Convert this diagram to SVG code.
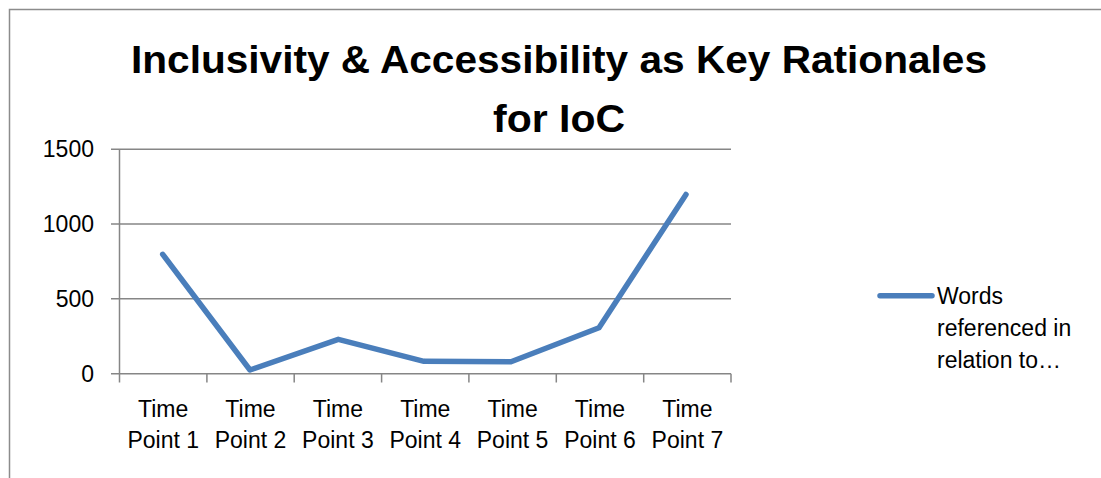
<svg xmlns="http://www.w3.org/2000/svg" width="1101" height="478" viewBox="0 0 1101 478">
  <style>
    .frame { fill: none; stroke: #8c8c8c; stroke-width: 1.5; }
    .grid { stroke: #868686; stroke-width: 1.5; fill: none; }
    .axis { stroke: #868686; stroke-width: 1.5; fill: none; }
    .title { font-family: "Liberation Sans", Arial, sans-serif; font-weight: bold; font-size: 39px; fill: #000; text-anchor: middle; }
    .tick { font-family: "Liberation Sans", Arial, sans-serif; font-size: 23px; fill: #000; }
    .ylab { text-anchor: end; }
    .xlab { text-anchor: middle; }
    .series { fill: none; stroke: #4a7ebb; stroke-width: 5.5; stroke-linecap: round; stroke-linejoin: round; }
  </style>
  <rect width="1101" height="478" fill="#ffffff"/>

  <!-- chart frame (runs off the right and bottom edges) -->
  <path class="frame" d="M9.5,480 V9.5 H1103"/>

  <!-- title -->
  <g id="title">
    <text class="title" x="559" y="73" textLength="856" lengthAdjust="spacingAndGlyphs">Inclusivity &amp; Accessibility as Key Rationales</text>
    <text class="title" x="559" y="132" textLength="132" lengthAdjust="spacingAndGlyphs">for IoC</text>
  </g>

  <!-- gridlines and axes -->
  <g id="axes">
    <line class="grid" x1="111" y1="149.3" x2="731" y2="149.3"/>
    <line class="grid" x1="111" y1="224" x2="731" y2="224"/>
    <line class="grid" x1="111" y1="298.7" x2="731" y2="298.7"/>
    <line class="axis" x1="111" y1="373.7" x2="731" y2="373.7"/>
    <line class="axis" x1="119.5" y1="149.3" x2="119.5" y2="382.5"/>
    <path class="axis" d="M206.9,373.7 V382.5 M294.2,373.7 V382.5 M381.6,373.7 V382.5 M468.9,373.7 V382.5 M556.3,373.7 V382.5 M643.7,373.7 V382.5 M731,373.7 V382.5"/>
  </g>

  <!-- value axis labels -->
  <g id="y-labels" class="tick ylab">
    <text x="94" y="157">1500</text>
    <text x="94" y="232">1000</text>
    <text x="94" y="306.5">500</text>
    <text x="94" y="381.5">0</text>
  </g>

  <!-- category axis labels -->
  <g id="x-labels" class="tick xlab">
    <text x="163.2" y="417">Time</text><text x="163.2" y="448">Point 1</text>
    <text x="250.5" y="417">Time</text><text x="250.5" y="448">Point 2</text>
    <text x="337.9" y="417">Time</text><text x="337.9" y="448">Point 3</text>
    <text x="425.3" y="417">Time</text><text x="425.3" y="448">Point 4</text>
    <text x="512.6" y="417">Time</text><text x="512.6" y="448">Point 5</text>
    <text x="600" y="417">Time</text><text x="600" y="448">Point 6</text>
    <text x="687.4" y="417">Time</text><text x="687.4" y="448">Point 7</text>
  </g>

  <!-- data series -->
  <g id="series">
    <polyline class="series" points="162.7,254.3 250,370 338.3,339.3 424,361.3 511,361.8 599,327.7 686,194.5"/>
  </g>

  <!-- legend -->
  <g id="legend">
    <line class="series" x1="880" y1="295.7" x2="932" y2="295.7"/>
    <text class="tick" x="937" y="304">Words</text>
    <text class="tick" x="937" y="335.7">referenced in</text>
    <text class="tick" x="937" y="367.5">relation to…</text>
  </g>
</svg>
